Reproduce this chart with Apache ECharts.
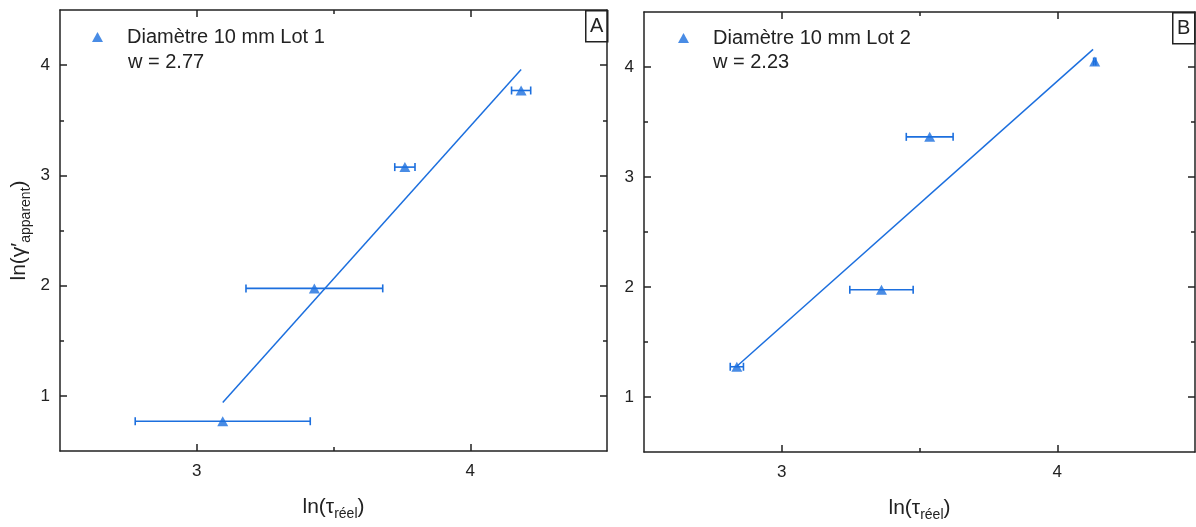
<!DOCTYPE html>
<html>
<head>
<meta charset="utf-8">
<script src="https://cdn.jsdelivr.net/npm/echarts@6/dist/echarts.min.js"></script>
<style>
html,body{margin:0;padding:0;background:#fff;}
#c{width:1196px;height:527px;}
</style>
</head>
<body>
<div id="c"></div>
<script>
// ---- data ----
const xTicks = [3, 4];
const xMinor = [3.5];
const yTicks = [1, 2, 3, 4];
const yMinor = [1.5, 2.5, 3.5];

const nameA = 'Diamètre 10 mm Lot 1';
const wA = 'w = 2.77';
const xA = [3.095, 3.43, 3.761, 4.186];
const yA = [0.77, 1.975, 3.075, 3.77];
const xerrA = [0.32, 0.25, 0.037, 0.035];
const fitAx = [3.095, 4.186];
const fitAy = [0.94, 3.96];

const nameB = 'Diamètre 10 mm Lot 2';
const wB = 'w = 2.23';
const xB = [2.837, 3.362, 3.537, 4.136];
const yB = [1.275, 1.975, 3.365, 4.05];
const xerrB = [0.024, 0.115, 0.085, 0.004];
const fitBx = [2.837, 4.13];
const fitBy = [1.28, 4.16];

// ---- styling ----
const COL = '#1c6fde';
const FONT = 'Liberation Sans, Arial, sans-serif';
const TXT = '#222';

const grids = [
  {left: 60, top: 10, width: 547, height: 441},
  {left: 644, top: 12, width: 551, height: 443}
];

function xAxes(gi, withName) {
  const base = {type: 'value', gridIndex: gi, min: 2.5, max: 4.5, interval: 0.5, splitLine: {show: false}};
  return [
    Object.assign({}, base, {
      position: 'bottom',
      axisLine: {show: true, lineStyle: {color: '#222', width: 1.5}},
      axisTick: {show: true, inside: true, length: 7, customValues: xTicks, lineStyle: {color: '#222', width: 1.5}},
      axisLabel: {show: true, customValues: xTicks, margin: 12, fontSize: 17, color: TXT, fontFamily: FONT},
      name: withName ? '{a|ln(τ}{s|réel}{a|)}' : '',
      nameLocation: 'middle', nameGap: 46,
      nameTextStyle: {fontFamily: FONT, color: TXT, rich: {
        a: {fontSize: 21, fontFamily: FONT, color: TXT, verticalAlign: 'top', lineHeight: 24},
        s: {fontSize: 14, fontFamily: FONT, color: TXT, verticalAlign: 'top', lineHeight: 24, padding: [10, 0, 0, 0]}
      }}
    }),
    Object.assign({}, base, {
      position: 'bottom',
      axisLine: {show: false},
      axisTick: {show: true, inside: true, length: 4, customValues: xMinor, lineStyle: {color: '#222', width: 1.5}},
      axisLabel: {show: false}
    }),
    Object.assign({}, base, {
      position: 'top',
      axisLine: {show: true, lineStyle: {color: '#222', width: 1.5}},
      axisTick: {show: true, inside: true, length: 7, customValues: xTicks, lineStyle: {color: '#222', width: 1.5}},
      axisLabel: {show: false}
    }),
    Object.assign({}, base, {
      position: 'top',
      axisLine: {show: false},
      axisTick: {show: true, inside: true, length: 4, customValues: xMinor, lineStyle: {color: '#222', width: 1.5}},
      axisLabel: {show: false}
    })
  ];
}

function yAxes(gi, withName) {
  const base = {type: 'value', gridIndex: gi, min: 0.5, max: 4.5, interval: 0.5, splitLine: {show: false}};
  return [
    Object.assign({}, base, {
      position: 'left',
      axisLine: {show: true, lineStyle: {color: '#222', width: 1.5}},
      axisTick: {show: true, inside: true, length: 7, customValues: yTicks, lineStyle: {color: '#222', width: 1.5}},
      axisLabel: {show: true, customValues: yTicks, margin: 10, fontSize: 17, color: TXT, fontFamily: FONT},
      name: withName ? '{a|ln(γ′}{s|apparent}{a|)}' : '',
      nameLocation: 'middle', nameGap: 27, nameRotate: 90,
      nameTextStyle: {fontFamily: FONT, color: TXT, rich: {
        a: {fontSize: 21, fontFamily: FONT, color: TXT, verticalAlign: 'top', lineHeight: 24},
        s: {fontSize: 14, fontFamily: FONT, color: TXT, verticalAlign: 'top', lineHeight: 24, padding: [10, 0, 0, 0]}
      }}
    }),
    Object.assign({}, base, {
      position: 'left',
      axisLine: {show: false},
      axisTick: {show: true, inside: true, length: 4, customValues: yMinor, lineStyle: {color: '#222', width: 1.5}},
      axisLabel: {show: false}
    }),
    Object.assign({}, base, {
      position: 'right',
      axisLine: {show: true, lineStyle: {color: '#222', width: 1.5}},
      axisTick: {show: true, inside: true, length: 7, customValues: yTicks, lineStyle: {color: '#222', width: 1.5}},
      axisLabel: {show: false}
    }),
    Object.assign({}, base, {
      position: 'right',
      axisLine: {show: false},
      axisTick: {show: true, inside: true, length: 4, customValues: yMinor, lineStyle: {color: '#222', width: 1.5}},
      axisLabel: {show: false}
    })
  ];
}

function errRender(params, api) {
  const x = api.value(0), y = api.value(1), e = api.value(2);
  const p1 = api.coord([x - e, y]);
  const p2 = api.coord([x + e, y]);
  const h = 4;
  const st = {stroke: COL, lineWidth: 1.6};
  return {type: 'group', children: [
    {type: 'line', shape: {x1: p1[0], y1: p1[1], x2: p2[0], y2: p2[1]}, style: st},
    {type: 'line', shape: {x1: p1[0], y1: p1[1] - h, x2: p1[0], y2: p1[1] + h}, style: st},
    {type: 'line', shape: {x1: p2[0], y1: p2[1] - h, x2: p2[0], y2: p2[1] + h}, style: st}
  ]};
}

function panelSeries(gi, name, xs, ys, errs, fx, fy) {
  const xi = gi * 4, yi = gi * 4;
  return [
    {type: 'custom', xAxisIndex: xi, yAxisIndex: yi, renderItem: errRender,
     data: xs.map((x, i) => [x, ys[i], errs[i]]), silent: true, z: 2},
    {type: 'line', xAxisIndex: xi, yAxisIndex: yi, data: fx.map((x, i) => [x, fy[i]]),
     showSymbol: false, lineStyle: {color: COL, width: 1.5}, silent: true, z: 3},
    {type: 'scatter', name: name, xAxisIndex: xi, yAxisIndex: yi, data: xs.map((x, i) => [x, ys[i]]),
     symbol: 'triangle', symbolSize: [11, 10], itemStyle: {color: COL}, z: 4}
  ];
}

function legendFor(name, left, top) {
  return {
    data: [{name: name, icon: 'triangle'}],
    left: left, top: top, orient: 'vertical',
    itemWidth: 11, itemHeight: 10, itemGap: 0,
    textStyle: {fontSize: 20, fontFamily: FONT, color: TXT, padding: [0, 0, 0, 19]},
    selectedMode: false
  };
}

function panelLabel(letter, x, y, w, h) {
  return {type: 'group', left: x, top: y, children: [
    {type: 'rect', shape: {x: 0, y: 0, width: w, height: h}, style: {fill: '#fff', stroke: '#222', lineWidth: 1.5}},
    {type: 'text', x: w / 2, y: h / 2, style: {text: letter, fontSize: 20, fontFamily: FONT, fill: TXT, align: 'center', verticalAlign: 'middle'}}
  ]};
}

const option = {
  animation: false,
  backgroundColor: '#fff',
  grid: grids,
  xAxis: xAxes(0, true).concat(xAxes(1, true)),
  yAxis: yAxes(0, true).concat(yAxes(1, false)),
  legend: [legendFor(nameA, 87, 22), legendFor(nameB, 673, 23)],
  series: panelSeries(0, nameA, xA, yA, xerrA, fitAx, fitAy)
    .concat(panelSeries(1, nameB, xB, yB, xerrB, fitBx, fitBy)),
  graphic: [
    {type: 'text', left: 128, top: 52, style: {text: wA, fontSize: 20, fontFamily: FONT, fill: TXT}},
    {type: 'text', left: 713, top: 52, style: {text: wB, fontSize: 20, fontFamily: FONT, fill: TXT}},
    panelLabel('A', 585, 10, 22, 31),
    panelLabel('B', 1172, 12, 22, 31)
  ]
};

const chart = echarts.init(document.getElementById('c'), null, {renderer: 'canvas'});
chart.setOption(option);
</script>
</body>
</html>
